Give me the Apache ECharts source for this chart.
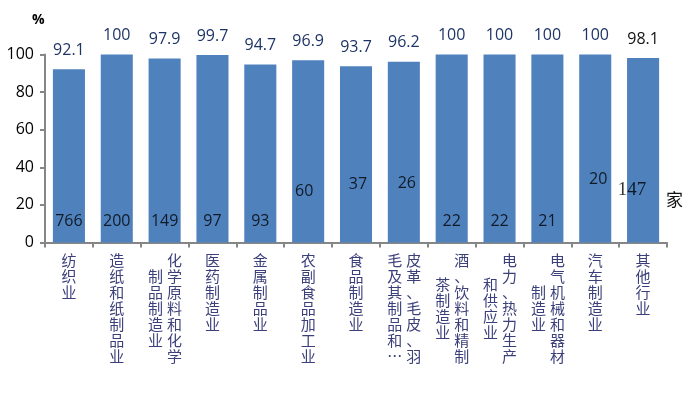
<!DOCTYPE html>
<html>
<head>
<meta charset="utf-8">
<script src="https://cdn.jsdelivr.net/npm/echarts@6/dist/echarts.min.js"></script>
<style>
html,body{margin:0;padding:0;background:#fff;}
#chart{width:698px;height:395px;}
</style>
</head>
<body>
<div id="chart"></div>
<script>
// ---- data ----
const categories = [
  '纺织业','造纸和纸制品业','化学原料和化学制品制造业','医药制造业','金属制品业',
  '农副食品加工业','食品制造业','皮革、毛皮、羽毛及其制品和制鞋业','酒、饮料和精制茶制造业',
  '电力、热力生产和供应业','电气机械和器材制造业','汽车制造业','其他行业'
];
const rates = [92.1, 100, 97.9, 99.7, 94.7, 96.9, 93.7, 96.2, 100, 100, 100, 100, 98.1];
const counts = [766, 200, 149, 97, 93, 60, 37, 26, 22, 22, 21, 20, 147];
const yTicks = [0, 20, 40, 60, 80, 100];
const countUnit = '家';
const yUnit = '%';

// ---- layout (label placement, kept apart from data) ----
const countLabelLevel = [11, 11, 11, 11, 11, 27, 31, 31.5, 11, 11, 11, 33.8, 27.9];
const countLabelDx = [0, 0, 0, 0, 0, -4, 2, 3, 0, 0, 0, 3, -11];

const LINE = 16;
function splitCols(name) {
  let s = name;
  if (s.length > 14) s = s.slice(0, 13) + '…';
  return [s.slice(0, 7), s.slice(7)];
}
const FONT_CJK = '"Noto Sans CJK SC", sans-serif';
const labelColor = '#3b3f7a';
const baseTok = { fontSize: 15, lineHeight: LINE, fontFamily: FONT_CJK, color: labelColor };

const richRight = {
  c: Object.assign({}, baseTok),
  r: Object.assign({}, baseTok, { padding: [0, 0, 0, 20] })
};
const richLeft = {
  l: Object.assign({}, baseTok, { padding: [0, 18, 0, 0] })
};
categories.forEach(function (name) {
  const cols = splitCols(name);
  if (cols[1]) {
    const off = Math.round((cols[0].length - cols[1].length) / 2 * LINE);
    richLeft['f' + off] = Object.assign({}, baseTok, { padding: [off, 18, 0, 0], lineHeight: LINE + off });
  }
});

function rightFmt(val) {
  const cols = splitCols(val);
  const lines = cols[0].split('').join('\n');
  return cols[1] ? '{r|' + lines + '}' : '{c|' + lines + '}';
}
function leftFmt(val) {
  const cols = splitCols(val);
  if (!cols[1]) return '';
  const b = cols[1].split('');
  const off = Math.round((cols[0].length - b.length) / 2 * LINE);
  let s = '{f' + off + '|' + b[0] + '}';
  if (b.length > 1) s += '\n{l|' + b.slice(1).join('\n') + '}';
  return s;
}

const axisGray = '#868686';
const numFont = '"Open Sans", "Liberation Sans", sans-serif';

const chart = echarts.init(document.getElementById('chart'), null, { renderer: 'canvas' });
chart.setOption({
  animation: false,
  backgroundColor: '#ffffff',
  grid: { left: 45, right: 31, top: 54.5, bottom: 152.5 },
  xAxis: [
    {
      type: 'category',
      data: categories,
      position: 'bottom',
      axisLine: { show: true, lineStyle: { color: axisGray, width: 2 } },
      axisTick: { show: true, alignWithLabel: false, length: 5, lineStyle: { color: axisGray, width: 2 } },
      axisLabel: { interval: 0, margin: 10, formatter: rightFmt, rich: richRight, verticalAlign: 'top', align: 'center' },
      splitLine: { show: false }
    },
    {
      type: 'category',
      data: categories,
      position: 'bottom',
      offset: 0,
      axisLine: { show: false },
      axisTick: { show: false },
      axisLabel: { interval: 0, margin: 10, formatter: leftFmt, rich: richLeft, verticalAlign: 'top', align: 'center' },
      splitLine: { show: false }
    }
  ],
  yAxis: {
    type: 'value',
    min: yTicks[0],
    max: yTicks[yTicks.length - 1],
    interval: yTicks[1] - yTicks[0],
    axisLine: { show: true, lineStyle: { color: axisGray, width: 2 } },
    axisTick: { show: true, length: 5, lineStyle: { color: axisGray, width: 2 } },
    axisLabel: { margin: 11, color: '#000', fontSize: 16, fontFamily: numFont },
    splitLine: { show: false }
  },
  graphic: [
    { type: 'text', left: 32, top: 13, style: { text: yUnit, font: 'bold 14px "Open Sans", sans-serif', fill: '#000' } },
    { type: 'text', left: 666, top: 191, style: { text: countUnit, font: '17px ' + FONT_CJK, fill: '#111' } }
  ],
  series: [
    {
      type: 'bar',
      xAxisIndex: 0,
      data: rates.map(function (v, i) {
        return { value: v, label: { color: i === rates.length - 1 ? '#111' : '#1f3466' } };
      }),
      barCategoryGap: '33%',
      itemStyle: { color: '#4f81bd' },
      label: { show: true, position: 'top', distance: 11, fontSize: 16, fontFamily: numFont },
      z: 2
    },
    {
      type: 'scatter',
      xAxisIndex: 0,
      symbolSize: 0,
      silent: true,
      data: counts.map(function (c, i) {
        const item = { value: [i, countLabelLevel[i]], label: { offset: [countLabelDx[i], 0] } };
        if (i === counts.length - 1) {
          item.label.fontFamily = '"Liberation Serif", serif';
          item.label.fontSize = 19;
        }
        return item;
      }),
      label: {
        show: true,
        position: 'inside',
        color: '#000',
        fontSize: 16,
        fontFamily: numFont,
        formatter: function (p) { return String(counts[p.dataIndex]); }
      },
      z: 5
    }
  ]
});
</script>
</body>
</html>
